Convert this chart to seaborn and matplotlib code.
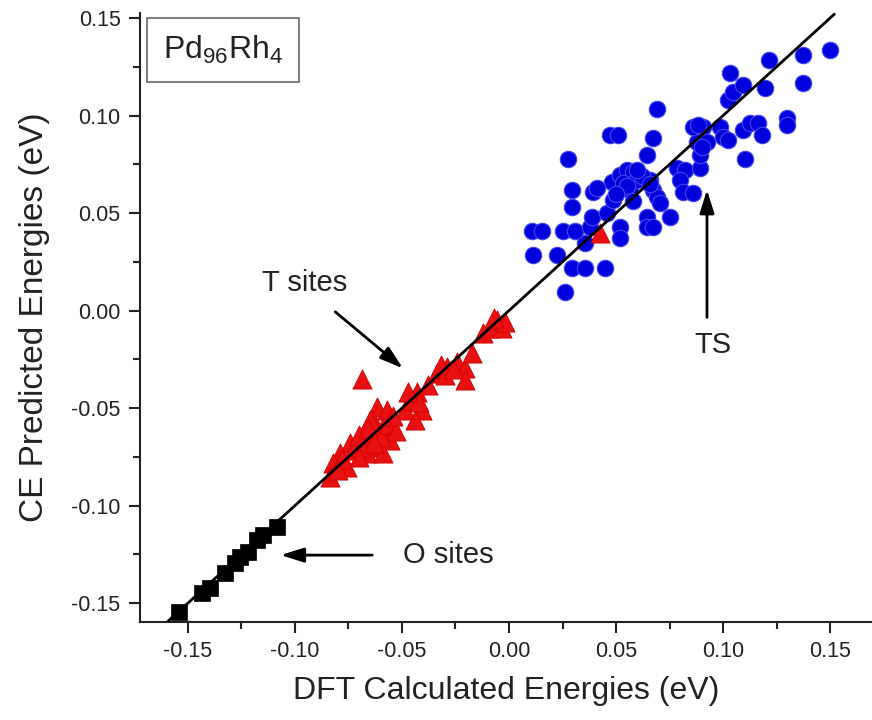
import numpy as np
import pandas as pd
import matplotlib
matplotlib.use("Agg")
import matplotlib.pyplot as plt
import seaborn as sns
from matplotlib.ticker import MultipleLocator

# Data (DFT vs CE energies, eV)
o_dft = [-0.1542, -0.1435, -0.1397, -0.1327, -0.1281, -0.1257, -0.1220, -0.1178, -0.1150, -0.1084]
o_ce = [-0.1547, -0.1450, -0.1424, -0.1347, -0.1296, -0.1265, -0.1239, -0.1178, -0.1152, -0.1111]

t_dft = [-0.0687, -0.0336, -0.0290, -0.0243, -0.0206, -0.0173, -0.0206, -0.0122,
         -0.0430, -0.0463, -0.0407, -0.0439, -0.0486, -0.0617, -0.0570, -0.0636,
         -0.0589, -0.0650, -0.0556, -0.0617, -0.0664, -0.0589, -0.0743, -0.0790,
         -0.0729, -0.0822, -0.0757, -0.0836, -0.0056, -0.0089, -0.0033, 0.0425,
         -0.0650, -0.0600, -0.0560, -0.0530, -0.0690, -0.0700, -0.0450, -0.0420,
         -0.0470, -0.0380, -0.0300, -0.0320, -0.0260, -0.0780, -0.0800, -0.0700,
         -0.0020, -0.0070, -0.0630, -0.0660, -0.0540]
t_ce = [-0.0351, -0.0320, -0.0290, -0.0264, -0.0295, -0.0218, -0.0356, -0.0115,
        -0.0418, -0.0459, -0.0510, -0.0562, -0.0510, -0.0495, -0.0510, -0.0562,
        -0.0597, -0.0628, -0.0664, -0.0700, -0.0731, -0.0731, -0.0679, -0.0731,
        -0.0715, -0.0782, -0.0803, -0.0854, -0.0049, -0.0090, -0.0090, 0.0397,
        -0.0560, -0.0650, -0.0580, -0.0620, -0.0700, -0.0640, -0.0460, -0.0470,
        -0.0420, -0.0380, -0.0330, -0.0280, -0.0300, -0.0760, -0.0820, -0.0750,
        -0.0060, -0.0040, -0.0680, -0.0600, -0.0540]

ts_dft = [0.0262, 0.0294, 0.0355, 0.0449, 0.0112, 0.0224, 0.0355, 0.0108, 0.0154, 0.0252,
          0.0308, 0.0379, 0.0519, 0.0519, 0.0388, 0.0458, 0.0294, 0.0294, 0.0393, 0.0411,
          0.0486, 0.0481, 0.0519, 0.0551, 0.0579, 0.0533, 0.0565, 0.0598, 0.0659, 0.0673,
          0.0692, 0.0706, 0.0645, 0.0645, 0.0673, 0.0752, 0.0785, 0.0822, 0.0799, 0.0813,
          0.0860, 0.0893, 0.0893, 0.0879, 0.0860, 0.0907, 0.0925, 0.0645, 0.0276, 0.0472,
          0.0509, 0.0673, 0.0692, 0.0986, 0.1000, 0.1023, 0.1094, 0.1126, 0.1164, 0.1182,
          0.1103, 0.1299, 0.1299, 0.1023, 0.1047, 0.1094, 0.1196, 0.1033, 0.1215, 0.1374,
          0.1374, 0.1500, 0.0883, 0.0902, 0.0550, 0.0620, 0.0500, 0.0600, 0.0660, 0.0580]
ts_ce = [0.0095, 0.0218, 0.0218, 0.0218, 0.0285, 0.0285, 0.0346, 0.0408, 0.0408, 0.0408,
         0.0408, 0.0428, 0.0428, 0.0372, 0.0480, 0.0500, 0.0531, 0.0618, 0.0608, 0.0628,
         0.0567, 0.0659, 0.0695, 0.0721, 0.0710, 0.0654, 0.0618, 0.0669, 0.0669, 0.0618,
         0.0582, 0.0551, 0.0480, 0.0428, 0.0428, 0.0480, 0.0731, 0.0721, 0.0669, 0.0608,
         0.0603, 0.0731, 0.0797, 0.0864, 0.0941, 0.0941, 0.0864, 0.0797, 0.0777, 0.0900,
         0.0900, 0.0885, 0.1033, 0.0941, 0.0890, 0.0874, 0.0926, 0.0962, 0.0962, 0.0900,
         0.0777, 0.0987, 0.0951, 0.1079, 0.1121, 0.1156, 0.1141, 0.1218, 0.1285, 0.1310,
         0.1167, 0.1336, 0.0951, 0.0838, 0.0640, 0.0690, 0.0600, 0.0720, 0.0650, 0.0560]

fit_x = [-0.162, 0.152]
fit_y = [-0.162, 0.152]

sns.set_style("ticks")
plt.rcParams['font.family'] = ['Liberation Sans', 'DejaVu Sans']
plt.rcParams['mathtext.default'] = 'regular'

fig = plt.figure(figsize=(8.72, 7.2), dpi=100)
ax = fig.add_axes([140 / 872, 98 / 720, 732 / 872, 609 / 720])

# fit line
sns.lineplot(x=fit_x, y=fit_y, color='black', lw=2, ax=ax, zorder=3)

sns.scatterplot(x=ts_dft, y=ts_ce, marker='o', s=140, color='#0000dd',
                edgecolor='#4444ee', linewidth=0.8, ax=ax, zorder=2)
sns.scatterplot(x=t_dft, y=t_ce, marker='^', s=190, color='#e81010',
                edgecolor='#d00000', linewidth=0.6, ax=ax, zorder=2)
sns.scatterplot(x=o_dft, y=o_ce, marker='s', s=125, color='black',
                edgecolor='black', linewidth=0.5, ax=ax, zorder=4)

ax.set_xlim(-0.1724, 0.1696)
ax.set_ylim(-0.1597, 0.1526)
ax.xaxis.set_major_locator(MultipleLocator(0.05))
ax.xaxis.set_minor_locator(MultipleLocator(0.025))
ax.yaxis.set_major_locator(MultipleLocator(0.05))
ax.yaxis.set_minor_locator(MultipleLocator(0.025))
ax.xaxis.set_major_formatter(plt.FuncFormatter(lambda v, p: f"{v:.2f}".replace("-0.00", "0.00")))
ax.yaxis.set_major_formatter(plt.FuncFormatter(lambda v, p: f"{v:.2f}".replace("-0.00", "0.00")))

ax.tick_params(which='major', direction='out', length=8, width=1.5, labelsize=15.5,
               colors='#222222', pad=6)
ax.tick_params(which='minor', direction='out', length=5, width=1.5, colors='#222222')
for side in ['top', 'right']:
    ax.spines[side].set_visible(False)
for side in ['left', 'bottom']:
    ax.spines[side].set_linewidth(1.5)
    ax.spines[side].set_color('#222222')

ax.set_xlabel('DFT Calculated Energies (eV)', fontsize=23, color='#222222', labelpad=10)
ax.set_ylabel('CE Predicted Energies (eV)', fontsize=24, color='#222222', labelpad=15)

# annotations
arrow = dict(arrowstyle='-|>,head_length=0.7,head_width=0.22', color='black', lw=2,
             mutation_scale=20)
ax.text(-0.0953, 0.0141, 'T sites', fontsize=21, ha='center', va='center', color='#222222')
ax.annotate('', xy=(-0.0486, -0.0305), xytext=(-0.0822, 0.0003), arrowprops=arrow)
ax.text(0.0953, -0.0177, 'TS', fontsize=21, ha='center', va='center', color='#222222')
ax.annotate('', xy=(0.0925, 0.0633), xytext=(0.0925, -0.0049), arrowprops=arrow)
ax.text(-0.0285, -0.1254, 'O sites', fontsize=21, ha='center', va='center', color='#222222')
ax.annotate('', xy=(-0.108, -0.1254), xytext=(-0.0626, -0.1254), arrowprops=arrow)

ax.text(0.113, 0.94, 'Pd$_{96}$Rh$_{4}$', transform=ax.transAxes, fontsize=23,
        ha='center', va='center', color='#222222',
        bbox=dict(boxstyle='square,pad=0.5', facecolor='white', edgecolor='#666666', lw=1.2))

fig.savefig('out.png', dpi=100)
